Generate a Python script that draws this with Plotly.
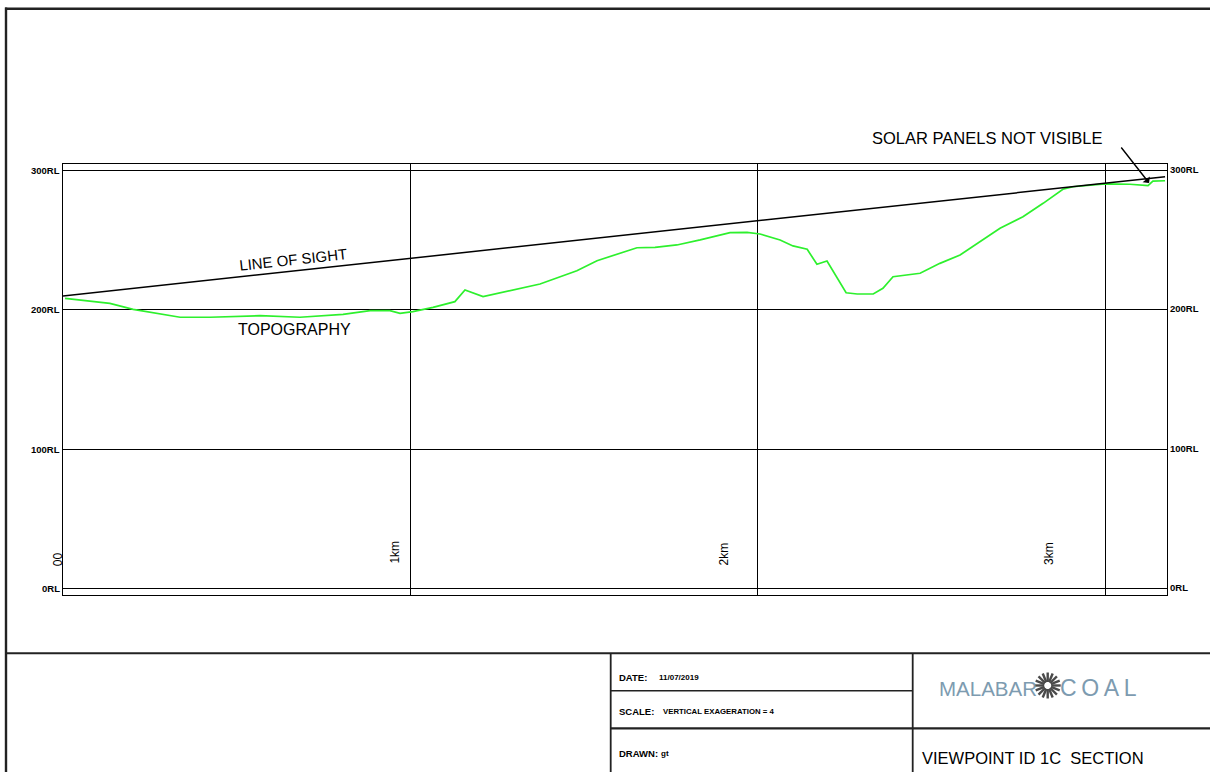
import math
import plotly.graph_objects as go

# ---- section data (distance along section in metres, elevation in m RL) ----
topo_dist = [6, 135, 202, 337, 423, 567, 682, 806, 884, 941, 970, 1007, 1065, 1128, 1157,
             1209, 1373, 1479, 1537, 1574, 1652, 1704, 1767, 1834, 1920, 1969, 2006, 2064,
             2101, 2142, 2170, 2199, 2254, 2286, 2332, 2360, 2389, 2467, 2524, 2582, 2697,
             2763, 2821, 2878, 2907, 2999, 3071, 3123, 3137, 3172]
topo_elev = [208.3, 204.7, 200.4, 194.7, 194.7, 195.8, 194.7, 196.8, 199.4, 199.4, 197.5,
             198.7, 201.8, 205.9, 214.3, 209.5, 218.6, 228.1, 235.3, 238.2, 244.6, 244.9,
             246.6, 250.2, 255.4, 255.7, 254.5, 250.2, 245.9, 243.5, 232.7, 235.1, 212.3,
             211.4, 211.4, 215.5, 223.8, 226.3, 233.4, 239.4, 258.6, 266.9, 276.5, 286.6,
             288.4, 290.4, 290.2, 289.2, 292.5, 292.7]

sight_dist = [0, 3172]
sight_elev = [210.0, 295.6]

rl_ticks = [0, 100, 200, 300]
rl_labels = ["0RL", "100RL", "200RL", "300RL"]
km_ticks = [0, 1000, 2000, 3000]
km_labels = ["00", "1km", "2km", "3km"]

solar_point = (3126, 291.1)

W, H = 1210, 772


def px(x):
    return x / W


def py(y):
    return 1 - y / H


FONT = "Liberation Sans, Arial, sans-serif"

fig = go.Figure()
fig.add_trace(go.Scatter(x=topo_dist, y=topo_elev, mode="lines",
                         line=dict(color="#2df02d", width=1.7), hoverinfo="skip"))
fig.add_trace(go.Scatter(x=sight_dist, y=sight_elev, mode="lines",
                         line=dict(color="black", width=1.5), hoverinfo="skip"))

# axis geometry (pixel frame of the section box)
x_left, x_right = 63.0, 1167.3
y_top, y_bot = 163.7, 594.7
y0_px, y300_px = 588.4, 170.6
ppm = (y0_px - y300_px) / 300.0
xppm = (1105.3 - 63.0) / 3000.0

fig.update_xaxes(domain=[px(x_left), px(x_right)], range=[0, (x_right - x_left) / xppm],
                 tickvals=km_ticks, showticklabels=False, ticks="",
                 showgrid=True, gridcolor="black", gridwidth=1.3, zeroline=False,
                 showline=True, mirror=True, linecolor="black", linewidth=1.4, fixedrange=True)
fig.update_yaxes(domain=[py(y_bot), py(y_top)],
                 range=[(y0_px - y_bot) / ppm, (y0_px - y_top) / ppm],
                 tickvals=rl_ticks, showticklabels=False, ticks="",
                 showgrid=True, gridcolor="black", gridwidth=1.3, zeroline=False,
                 showline=True, mirror=True, linecolor="black", linewidth=1.4, fixedrange=True)

ann = []
# RL labels on both sides of the section
for v, t in zip(rl_ticks, rl_labels):
    ann.append(dict(x=px(x_left - 1), y=v, xref="paper", yref="y", text=f"<b>{t}</b>",
                    showarrow=False, xanchor="right", yanchor="middle",
                    font=dict(family=FONT, size=9.5, color="black")))
    ann.append(dict(x=px(x_right + 1), y=v, xref="paper", yref="y", text=f"<b>{t}</b>",
                    showarrow=False, xanchor="left", yanchor="middle", yshift=1,
                    font=dict(family=FONT, size=9.5, color="black")))

# chainage labels, rotated, sitting just left of each grid line
km_shift = [-5, -15, -34, -57]
km_heights = [21, 26, 25, 25]
for v, t, sh, hh in zip(km_ticks, km_labels, km_shift, km_heights):
    ann.append(dict(x=v, y=hh, xref="x", yref="y", text=t, showarrow=False,
                    textangle=-90, xanchor="center", yanchor="middle", xshift=sh,
                    font=dict(family=FONT, size=12, color="black")))

# section annotations
angle = math.degrees(math.atan((sight_elev[1] - sight_elev[0]) * ppm /
                               ((sight_dist[1] - sight_dist[0]) * xppm)))
ann.append(dict(x=662, y=236, xref="x", yref="y", text="LINE OF SIGHT", showarrow=False,
                textangle=-angle, xanchor="center", yanchor="middle",
                font=dict(family=FONT, size=15, color="black")))
ann.append(dict(x=665, y=185.6, xref="x", yref="y", text="TOPOGRAPHY", showarrow=False,
                xanchor="center", yanchor="middle",
                font=dict(family=FONT, size=16, color="black")))
ann.append(dict(x=px(987), y=py(138), xref="paper", yref="paper",
                text="SOLAR PANELS NOT VISIBLE", showarrow=False,
                xanchor="center", yanchor="middle",
                font=dict(family=FONT, size=16.5, color="black")))
ann.append(dict(x=solar_point[0], y=solar_point[1], xref="x", yref="y", text="",
                showarrow=True, ax=-29, ay=-37, arrowhead=1, arrowsize=1.1,
                arrowwidth=1.4, arrowcolor="black", standoff=0))


# title block text
def block_text(x, y, text, size, bold=True, color="black"):
    t = f"<b>{text}</b>" if bold else text
    ann.append(dict(x=px(x), y=py(y), xref="paper", yref="paper", text=t, showarrow=False,
                    xanchor="left", yanchor="middle",
                    font=dict(family=FONT, size=size, color=color)))


block_text(617, 677, "DATE:", 9.5)
block_text(657, 677, "11/07/2019", 8)
block_text(617, 711, "SCALE:", 9.5)
block_text(661, 711.5, "VERTICAL EXAGERATION = 4", 7.8)
block_text(617, 753.5, "DRAWN:", 9.5)
block_text(659, 753.5, "gt", 8)
block_text(920, 758, "VIEWPOINT ID 1C \u00a0SECTION", 16.5, bold=False)
block_text(937, 688, "MALABAR", 20.5, bold=False, color="#7d9bb0")
block_text(1058, 688, "C\u2009O\u2009A\u2009L", 23, bold=False, color="#7d9bb0")

shapes = []


def hline(y, x0, x1, w=1.8, c="#222"):
    shapes.append(dict(type="line", xref="paper", yref="paper", x0=px(x0), x1=px(x1),
                       y0=py(y), y1=py(y), line=dict(color=c, width=w)))


def vline(x, y0, y1, w=1.8, c="#222"):
    shapes.append(dict(type="line", xref="paper", yref="paper", x0=px(x), x1=px(x),
                       y0=py(y0), y1=py(y1), line=dict(color=c, width=w)))


# drawing sheet border and title block
hline(8.7, 5, W, w=2.6)
vline(6, 7.5, H, w=2.4)
hline(653.3, 5, W, w=2.0)
vline(610.7, 653.3, H, w=1.8)
vline(912.7, 653.3, H, w=1.8)
hline(690.7, 610.7, 912.7, w=1.6)
hline(728.3, 610.7, W, w=2.2)

# company mark: radiating sunburst between the two words
cx, cy = 1047.7, 685.5
n_rays = 16
for i in range(n_rays):
    a = 2 * math.pi * i / n_rays
    r0, r1 = 3.5, 13.0
    shapes.append(dict(type="line", xref="paper", yref="paper",
                       x0=px(cx + r0 * math.cos(a)), y0=py(cy + r0 * math.sin(a)),
                       x1=px(cx + r1 * math.cos(a)), y1=py(cy + r1 * math.sin(a)),
                       line=dict(color="#4a4a4a", width=2.4)))

fig.update_layout(width=W, height=H, margin=dict(l=0, r=0, t=0, b=0),
                  paper_bgcolor="white", plot_bgcolor="white", showlegend=False,
                  annotations=ann, shapes=shapes)

fig.write_html("out.html")
